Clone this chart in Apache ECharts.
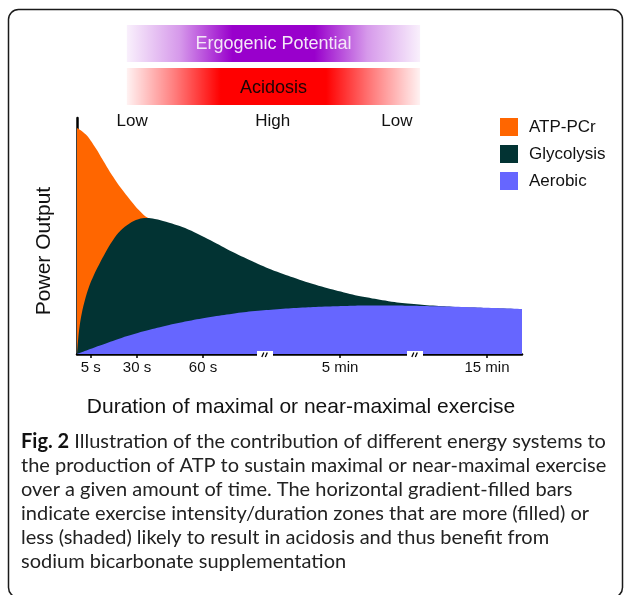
<!DOCTYPE html>
<html><head><meta charset="utf-8">
<script src="https://cdn.jsdelivr.net/npm/echarts@6/dist/echarts.min.js"></script>
<style>html,body{margin:0;padding:0;background:#fff}#c{width:627px;height:595px}</style>
</head><body><div id="c"></div>
<script>
// x: relative duration position (0-100), y: relative power output (0-100)
const atpPcr = [[0,95.8],[2,93.0],[4,87.8],[6,81.6],[8,75.4],[10,70.0],[12,65.2],[14,60.8],[16,57.6],[18,56.6],[20,55.5]];
const glycolysis = [[0,0],[0.25,6],[0.6,12],[1.1,17.5],[1.8,23],[2.7,28.5],[3.8,33.5],[5.0,38],[6.4,43],[8.0,48],[9.8,52.3],[11.8,55.3],[13.8,57.1],[15.6,57.6],[17.5,57.2],[20,56.0],[25,52.8],[30,48.2],[35,43.2],[40,38.8],[45,34.8],[50,31.5],[55,28.6],[60,26.1],[65,24.0],[70,22.4],[75,21.3],[80,20.5],[85,19.9],[90,19.6],[95,19.3],[100,19.0]];
const aerobic = [[0,0],[5,3.5],[10,6.8],[15,9.6],[20,12.0],[25,14.0],[30,15.7],[35,17.1],[40,18.2],[45,19.0],[50,19.6],[55,20.0],[60,20.3],[65,20.5],[70,20.5],[75,20.4],[80,20.2],[85,20.0],[90,19.7],[95,19.4],[100,19.1]];
const seriesNames = ['ATP-PCr','Glycolysis','Aerobic'];
const tickLabels = ['5 s','30 s','60 s','5 min','15 min'];
const tickPos = [3.08,13.48,28.31,59.1,92.13];
const breakPos = [42.25,75.96];
const zoneNames = ['Ergogenic Potential','Acidosis'];
const zoneRange = [11.2,77.1];
const intensityLabels = ['Low','High','Low'];
const intensityPos = [12.4,44.0,71.9];
const xTitle = 'Duration of maximal or near-maximal exercise';
const yTitle = 'Power Output';
const captionLines = [
  ['Fig. 2', ' Illustration of the contribution of different energy systems to'],
  ['', 'the production of ATP to sustain maximal or near-maximal exercise'],
  ['', 'over a given amount of time. The horizontal gradient-filled bars'],
  ['', 'indicate exercise intensity/duration zones that are more (filled) or'],
  ['', 'less (shaded) likely to result in acidosis and thus benefit from'],
  ['', 'sodium bicarbonate supplementation']
];

const FONT = '"Liberation Sans", Arial, Helvetica, sans-serif';
const colors = ['#ff6600','#023333','#6666ff'];
const chart = echarts.init(document.getElementById('c'), null, {renderer:'canvas'});

function areaSeries(name, data, color, z){
  return {name, type:'line', data, smooth:0.4, showSymbol:false, symbol:'none', z,
    lineStyle:{width:0, color}, itemStyle:{color}, areaStyle:{color, opacity:1}, silent:true};
}

const option = {
  animation:false,
  backgroundColor:'#fff',
  grid:{left:77, right:105, top:118, bottom:241, containLabel:false, outerBoundsMode:'none'},
  legend:{data:seriesNames, orient:'vertical', left:500, top:118, itemWidth:18, itemHeight:18, itemGap:9,
    icon:'rect', padding:0, selectedMode:false,
    textStyle:{fontSize:17, color:'#111', fontFamily:FONT, padding:[0,0,0,6]}},
  xAxis:{type:'value', min:0, max:100,
    axisLine:{show:true, lineStyle:{color:'#000', width:2.5}},
    axisTick:{show:true, customValues:tickPos, length:4, lineStyle:{color:'#000', width:1.5}},
    axisLabel:{customValues:tickPos, fontSize:15, color:'#111', fontFamily:FONT, margin:6,
      formatter:function(v){let best=0;for(let i=0;i<tickPos.length;i++){if(Math.abs(tickPos[i]-v)<Math.abs(tickPos[best]-v))best=i;}return tickLabels[best];}},
    splitLine:{show:false}},
  yAxis:{type:'value', min:0, max:100,
    axisLine:{show:true, lineStyle:{color:'#000', width:2.5}},
    axisTick:{show:false}, axisLabel:{show:false}, splitLine:{show:false}},
  series:[
    areaSeries(seriesNames[0], atpPcr, colors[0], 2),
    areaSeries(seriesNames[1], glycolysis, colors[1], 3),
    areaSeries(seriesNames[2], aerobic, colors[2], 4),
    {type:'custom', data:breakPos.map(v=>[v,0]), clip:false, z:10, silent:true,
      renderItem:function(params, api){
        const p = api.coord([api.value(0), 0]);
        return {type:'group', children:[
          {type:'rect', shape:{x:p[0]-8, y:p[1]-3, width:16, height:6}, style:{fill:'#fff'}},
          {type:'line', shape:{x1:p[0]-3.2, y1:p[1]+3, x2:p[0]-1.2, y2:p[1]-1.5}, style:{stroke:'#000', lineWidth:1.3}},
          {type:'line', shape:{x1:p[0]+0.3, y1:p[1]+3, x2:p[0]+2.3, y2:p[1]-1.5}, style:{stroke:'#000', lineWidth:1.3}}
        ]};
      }}
  ]
};
chart.setOption(option);

const px = v => chart.convertToPixel({gridIndex:0}, [v, 0])[0];
const x0 = px(zoneRange[0]), x1 = px(zoneRange[1]);
const purple = (a)=>'rgba(153,0,204,'+a+')';
const red = (a)=>'rgba(255,0,0,'+a+')';
const graphics = [
  {type:'rect', shape:{x:8.5, y:9.5, width:614, height:588, r:10}, style:{fill:'none', stroke:'#1a1a1a', lineWidth:1.5}, z:1},
  {type:'rect', shape:{x:x0, y:25, width:x1-x0, height:37}, style:{fill:{type:'linear', x:0, y:0, x2:1, y2:0, colorStops:[
    {offset:0, color:purple(0.06)},{offset:0.18, color:purple(0.4)},{offset:0.36, color:purple(1)},{offset:0.64, color:purple(1)},{offset:0.82, color:purple(0.4)},{offset:1, color:purple(0.06)}]}}},
  {type:'rect', shape:{x:x0, y:68, width:x1-x0, height:37}, style:{fill:{type:'linear', x:0, y:0, x2:1, y2:0, colorStops:[
    {offset:0, color:red(0.05)},{offset:0.16, color:red(0.5)},{offset:0.32, color:red(1)},{offset:0.68, color:red(1)},{offset:0.84, color:red(0.5)},{offset:1, color:red(0.05)}]}}},
  {type:'text', x:(x0+x1)/2, y:44, style:{text:zoneNames[0], fill:'#f4e6f8', font:'18px '+FONT, align:'center', verticalAlign:'middle'}},
  {type:'text', x:(x0+x1)/2, y:88, style:{text:zoneNames[1], fill:'#1a0505', font:'18px '+FONT, align:'center', verticalAlign:'middle'}},
  {type:'text', x:301, y:407, style:{text:xTitle, fill:'#111', font:'21px '+FONT, align:'center', verticalAlign:'middle'}},
  {type:'text', x:44, y:251, rotation:Math.PI/2, style:{text:yTitle, fill:'#111', font:'21px '+FONT, align:'center', verticalAlign:'middle'}}
];
intensityLabels.forEach((t,i)=>{
  graphics.push({type:'text', x:px(intensityPos[i]), y:121, style:{text:t, fill:'#111', font:'17px '+FONT, align:'center', verticalAlign:'middle'}});
});
captionLines.forEach((ln,i)=>{
  graphics.push({type:'text', x:21, y:442+i*24, style:{
    text:(ln[0]?'{b|'+ln[0]+'}':'')+ln[1],
    rich:{b:{fontWeight:'bold', fontFamily:'Lato', fontSize:20, fill:'#111'}},
    font:'20px Lato', fill:'#222', align:'left', verticalAlign:'middle'}});
});
chart.setOption({graphic:graphics});
</script></body></html>
